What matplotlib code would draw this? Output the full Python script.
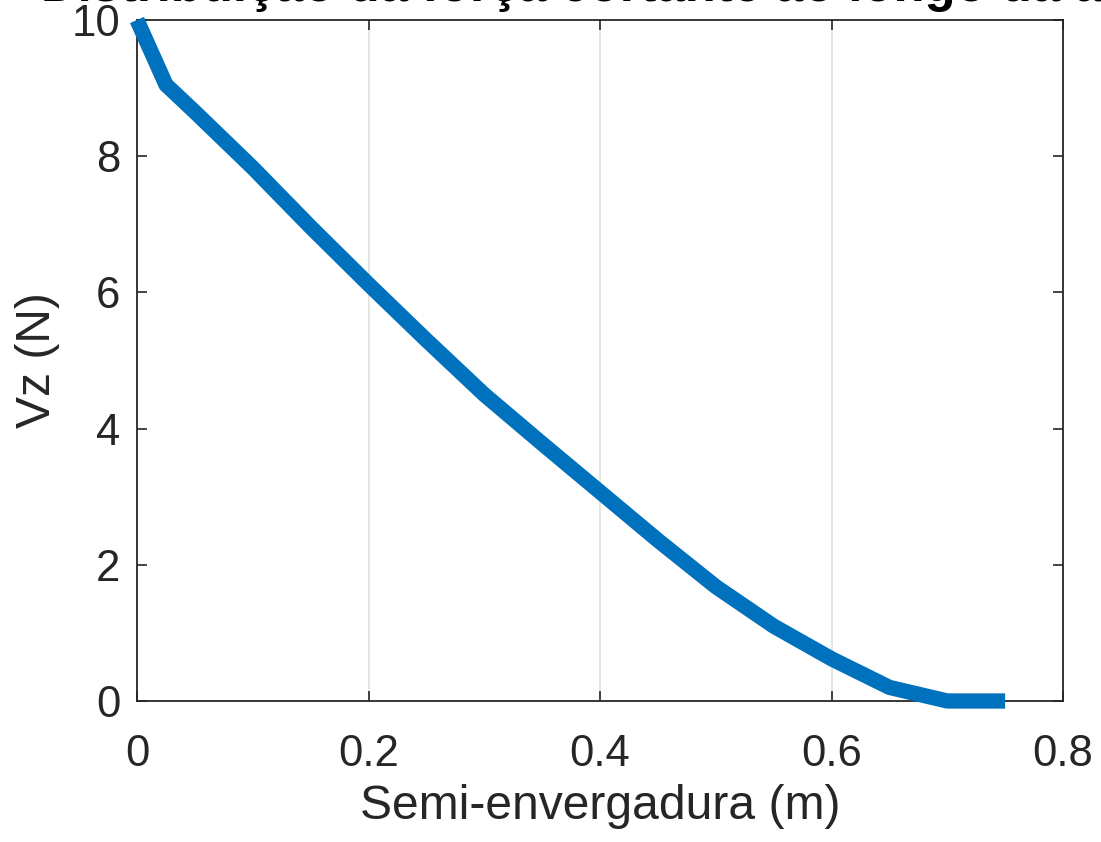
import matplotlib
matplotlib.use("Agg")
import matplotlib.pyplot as plt

# Shear force distribution along the half span
span_m = [0.0, 0.025, 0.05, 0.10, 0.15, 0.20, 0.25, 0.30, 0.35, 0.40,
          0.45, 0.50, 0.55, 0.60, 0.65, 0.70, 0.75]
vz_n = [10.0, 9.05, 8.65, 7.83, 6.96, 6.12, 5.30, 4.50, 3.78, 3.07,
        2.36, 1.68, 1.10, 0.62, 0.20, 0.0, 0.0]

x_ticks = [0, 0.2, 0.4, 0.6, 0.8]
x_tick_labels = ["0", "0.2", "0.4", "0.6", "0.8"]
y_ticks = [0, 2, 4, 6, 8, 10]
y_tick_labels = ["0", "2", "4", "6", "8", "10"]

title_text = "Distribuição da força cortante ao longo da asa"
x_label = "Semi-envergadura (m)"
y_label = "Vz (N)"

plt.rcParams["font.family"] = ["Liberation Sans", "DejaVu Sans"]
axis_grey = "#262626"
fs = 31.5
label_fs = 34.6

fig = plt.figure(figsize=(11.01, 8.42), dpi=100)
W, H = 1101, 842
left, right, top, bottom = 137, 1063, 20, 701
ax = fig.add_axes([left / W, 1 - bottom / H, (right - left) / W, (bottom - top) / H])

ax.plot(span_m, vz_n, color="#0072BD", linewidth=11,
        solid_capstyle="butt", solid_joinstyle="round", clip_on=False, zorder=3)

ax.set_xlim(0, 0.8)
ax.set_ylim(0, 10)
ax.set_xticks(x_ticks)
ax.set_xticklabels(x_tick_labels)
ax.set_yticks(y_ticks)
ax.set_yticklabels(y_tick_labels)

ax.tick_params(axis="both", direction="in", length=7, width=1.2, colors=axis_grey,
               labelsize=fs, top=True, right=True)
ax.tick_params(axis="x", pad=24)
ax.tick_params(axis="y", pad=12)
for sp in ax.spines.values():
    sp.set_color(axis_grey)
    sp.set_linewidth(1.3)

ax.grid(True, axis="x", color="#e0e0e0", linewidth=1.2)
ax.set_axisbelow(True)

ax.set_xlabel(x_label, fontsize=label_fs, color=axis_grey, labelpad=6)
ax.set_ylabel(y_label, fontsize=label_fs, color=axis_grey, labelpad=8)

# Title sits almost entirely above the top edge of the canvas
fig.text((left + right) / 2 / W, 1 - 1 / H, title_text, ha="center", va="baseline",
         fontsize=36.5, fontweight="bold", color="#000000")

fig.savefig("out.png", dpi=100, facecolor="white")
